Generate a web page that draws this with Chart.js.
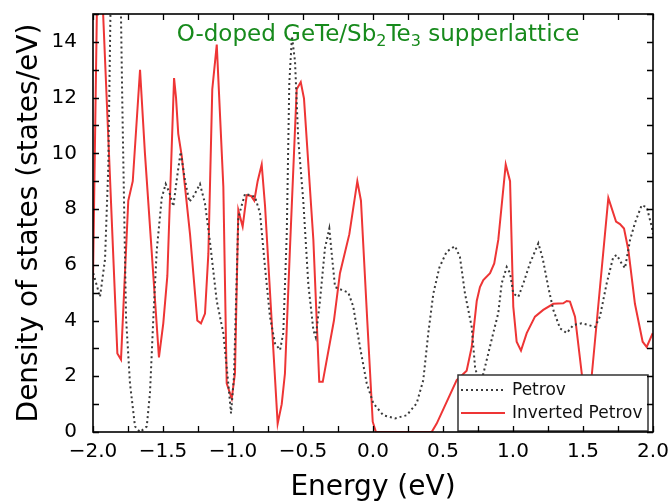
<!DOCTYPE html>
<html><head><meta charset="utf-8">
<script src="https://cdn.jsdelivr.net/npm/chart.js@4"></script>
<style>html,body{margin:0;padding:0;background:#fff}#wrap{width:672px;height:502px}</style>
</head><body><div id="wrap"><canvas id="c" width="672" height="502"></canvas></div>
<script>
// ---- data (energy in eV, DOS in states/eV) ----
const petrovEnergy = [-1.998,-1.950,-1.914,-1.891,-1.839,-1.791,-1.764,-1.736,-1.700,-1.664,-1.616,-1.593,-1.569,-1.545,-1.509,-1.481,-1.455,-1.426,-1.398,-1.374,-1.343,-1.312,-1.284,-1.236,-1.200,-1.164,-1.116,-1.069,-1.034,-1.014,-0.993,-0.962,-0.914,-0.843,-0.807,-0.771,-0.736,-0.700,-0.664,-0.641,-0.616,-0.598,-0.579,-0.557,-0.534,-0.498,-0.462,-0.426,-0.409,-0.379,-0.343,-0.312,-0.295,-0.271,-0.224,-0.176,-0.141,-0.093,-0.045,0.002,0.074,0.157,0.241,0.312,0.359,0.395,0.431,0.474,0.526,0.586,0.621,0.657,0.705,0.729,0.764,0.812,0.859,0.895,0.919,0.955,0.979,1.002,1.038,1.074,1.121,1.181,1.212,1.252,1.288,1.336,1.384,1.431,1.491,1.538,1.586,1.621,1.669,1.716,1.741,1.776,1.800,1.836,1.871,1.919,1.955,1.991,2.000];
const petrovDos = [5.7,4.85,6.2,9.5,28,11.9,4.1,1.75,0.2,0.0,0.2,1.4,4.1,6.5,8.4,8.9,8.6,8.1,9.2,10.05,9.04,8.26,8.44,8.9,8.2,6.8,4.7,3.55,1.75,0.67,2.0,7.7,8.55,8.44,7.85,5.9,4.14,3.18,2.94,3.55,7.1,12.5,14.2,13.3,10.5,8.3,5.3,3.66,3.4,4.7,6.6,7.3,6.4,5.2,5.1,5.0,4.5,3.05,1.75,1.03,0.6,0.49,0.6,1.03,1.86,3.55,4.97,5.9,6.47,6.67,6.28,4.97,3.77,2.33,1.6,2.58,3.55,4.27,5.33,5.92,5.7,4.97,4.85,5.33,6.05,6.77,6.23,5.2,4.38,3.72,3.55,3.84,3.9,3.84,3.77,4.14,5.33,6.28,6.35,6.05,5.88,6.89,7.5,8.14,8.07,7.37,7.1];
const invertedEnergy = [-2.000,-1.961,-1.826,-1.800,-1.748,-1.716,-1.664,-1.629,-1.529,-1.498,-1.469,-1.421,-1.407,-1.391,-1.366,-1.307,-1.255,-1.229,-1.200,-1.176,-1.148,-1.116,-1.069,-1.045,-1.009,-0.986,-0.962,-0.931,-0.902,-0.871,-0.848,-0.824,-0.795,-0.771,-0.724,-0.681,-0.652,-0.629,-0.593,-0.545,-0.516,-0.493,-0.426,-0.384,-0.359,-0.279,-0.236,-0.169,-0.112,-0.086,-0.041,-0.002,0.021,0.419,0.455,0.598,0.669,0.705,0.741,0.764,0.788,0.836,0.866,0.895,0.948,0.979,1.002,1.026,1.057,1.098,1.157,1.216,1.288,1.359,1.384,1.407,1.443,1.491,1.530,1.562,1.681,1.736,1.764,1.793,1.824,1.871,1.926,1.955,1.998];
const invertedDos = [5.5,19,2.82,2.6,8.3,9.0,13.0,10.0,2.68,3.9,5.6,12.7,12.0,10.7,9.9,7.1,4.0,3.9,4.25,6.4,12.3,13.9,8.8,1.75,1.2,2.1,7.96,7.37,8.5,8.47,8.3,9.0,9.6,8.1,4.0,0.3,1.0,2.1,6.6,12.3,12.56,11.97,6.9,1.8,1.8,4.0,5.7,7.1,9.0,8.3,4.0,0.37,0.0,0.0,0.3,1.86,2.2,3.05,4.7,5.2,5.45,5.7,6.05,6.9,9.6,9.0,4.5,3.24,2.92,3.55,4.14,4.38,4.6,4.62,4.7,4.68,4.14,2.1,0.3,2.0,8.4,7.55,7.46,7.3,6.53,4.6,3.24,3.05,3.55];
const seriesNames = ['Petrov', 'Inverted Petrov'];
const xTickLabels = [-2.0,-1.5,-1.0,-0.5,0.0,0.5,1.0,1.5,2.0];
const yTickLabels = [0,2,4,6,8,10,12,14];
const titleParts = [['O-doped GeTe/Sb',0],['2',1],['Te',0],['3',1],[' supperlattice',0]];

const FONT = 'DejaVu Sans';
const RED = '#ee3535';
const DOT = '#3a3a3a';
const GREEN = '#178a1c';

function pts(xs, ys){ return xs.map((x,i)=>({x:x, y:ys[i]})); }
function fmtX(v){ return v.toFixed(1).replace('-', '\u2212'); }

const framePlugin = {
  id: 'frame',
  afterDatasetsDraw(chart){
    const {ctx, chartArea: a, scales:{x, y}} = chart;
    ctx.save();
    // legend box
    const lx = 458, ly = 375, lw = 190, lh = 56;
    ctx.fillStyle = '#fff';
    ctx.fillRect(lx, ly, lw, lh);
    ctx.strokeStyle = '#333';
    ctx.lineWidth = 1.5;
    ctx.strokeRect(lx, ly, lw, lh);
    const ds = chart.data.datasets;
    const rows = [390, 413];
    ds.forEach((d, i) => {
      ctx.beginPath();
      ctx.strokeStyle = d.borderColor;
      ctx.lineWidth = d.borderWidth;
      ctx.setLineDash(d.borderDash || []);
      ctx.moveTo(461, rows[i]); ctx.lineTo(505, rows[i]);
      ctx.stroke();
      ctx.setLineDash([]);
      ctx.fillStyle = '#111';
      ctx.font = '17px "' + FONT + '"';
      ctx.textBaseline = 'middle';
      ctx.textAlign = 'left';
      ctx.fillText(d.label, 512, rows[i] + 1);
    });
    // frame
    ctx.strokeStyle = '#000';
    ctx.lineWidth = 1.6;
    ctx.strokeRect(a.left, a.top, a.right - a.left, a.bottom - a.top);
    // inward ticks
    const tl = 6;
    ctx.lineWidth = 1.3;
    ctx.beginPath();
    x.ticks.forEach(t => {
      const px = Math.round(x.getPixelForValue(t.value)) + 0.5;
      ctx.moveTo(px, a.bottom); ctx.lineTo(px, a.bottom - tl);
      ctx.moveTo(px, a.top); ctx.lineTo(px, a.top + tl);
    });
    y.ticks.forEach(t => {
      const py = Math.round(y.getPixelForValue(t.value)) + 0.5;
      ctx.moveTo(a.left, py); ctx.lineTo(a.left + tl, py);
      ctx.moveTo(a.right, py); ctx.lineTo(a.right - tl, py);
    });
    ctx.stroke();
    // title with subscripts
    const big = '23px "' + FONT + '"', small = '16px "' + FONT + '"';
    let w = 0;
    titleParts.forEach(p => { ctx.font = p[1] ? small : big; w += ctx.measureText(p[0]).width; });
    let cx = 378 - w / 2;
    const base = 41;
    ctx.fillStyle = GREEN;
    ctx.textBaseline = 'alphabetic';
    ctx.textAlign = 'left';
    titleParts.forEach(p => {
      ctx.font = p[1] ? small : big;
      ctx.fillText(p[0], cx, base + (p[1] ? 5 : 0));
      cx += ctx.measureText(p[0]).width;
    });
    ctx.restore();
  }
};

new Chart(document.getElementById('c'), {
  type: 'line',
  data: {
    datasets: [
      { label: seriesNames[0], data: pts(petrovEnergy, petrovDos), borderColor: DOT, borderWidth: 2, borderDash: [2, 3], pointRadius: 0, tension: 0, fill: false },
      { label: seriesNames[1], data: pts(invertedEnergy, invertedDos), borderColor: RED, borderWidth: 2, pointRadius: 0, tension: 0, fill: false }
    ]
  },
  options: {
    responsive: false, animation: false, devicePixelRatio: 1,
    layout: { padding: { top: 14, right: 19, left: 0, bottom: 0 } },
    plugins: { legend: { display: false }, tooltip: { enabled: false } },
    scales: {
      x: {
        type: 'linear', min: -2, max: 2,
        grid: { display: false }, border: { display: false },
        ticks: {
          stepSize: 0.25, autoSkip: false, maxRotation: 0, color: '#000', padding: 0,
          font: { family: FONT, size: 20 },
          callback: v => xTickLabels.some(t => Math.abs(t - v) < 1e-6) ? fmtX(v) : ''
        },
        title: { display: true, text: 'Energy (eV)', color: '#000', font: { family: FONT, size: 28 }, padding: { top: 0, bottom: -3 } },
        afterFit: s => { s.height = 70; s.paddingLeft = 0; s.paddingRight = 0; }
      },
      y: {
        type: 'linear', min: 0, max: 15,
        grid: { display: false }, border: { display: false },
        ticks: {
          stepSize: 1, autoSkip: false, color: '#000', padding: 8,
          font: { family: FONT, size: 20 },
          callback: v => yTickLabels.includes(v) ? String(v) : ''
        },
        title: { display: true, text: 'Density of states (states/eV)', color: '#000', font: { family: FONT, size: 28 }, padding: { top: 13, bottom: 0 } },
        afterFit: s => { s.width = 93; s.paddingTop = 0; s.paddingBottom = 0; }
      }
    }
  },
  plugins: [framePlugin]
});
</script>
</body></html>
